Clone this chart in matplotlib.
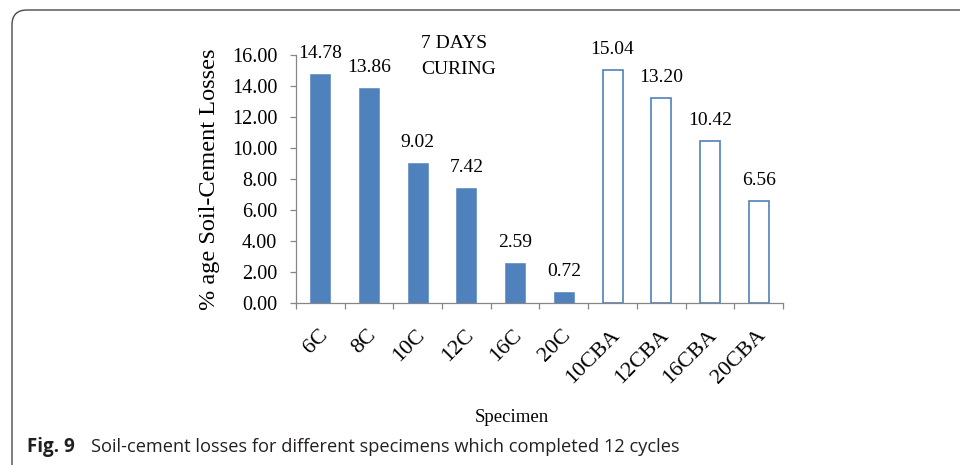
import matplotlib

matplotlib.use("Agg")

import matplotlib.pyplot as plt
import matplotlib.transforms as mtransforms
import numpy as np
from matplotlib.patches import PathPatch
from matplotlib.path import Path

# values
specimens = ["6C", "8C", "10C", "12C", "16C", "20C", "10CBA", "12CBA", "16CBA", "20CBA"]
losses = [14.78, 13.86, 9.02, 7.42, 2.59, 0.72, 15.04, 13.20, 10.42, 6.56]
yticks = [0, 2, 4, 6, 8, 10, 12, 14, 16]

BLUE = "#4F81BD"
AXIS_GREY = "#868686"
SERIF = "Liberation Serif"
SANS = "Open Sans"

fig = plt.figure(figsize=(9.6, 4.65), dpi=100)
ax = fig.add_axes([0.3083, 0.349, 0.5073, 0.5327])

x = np.arange(len(specimens))
for xi, val, name in zip(x, losses, specimens):
    hollow = name.endswith("CBA")
    ax.bar(
        xi, val, width=0.41,
        color="white" if hollow else BLUE,
        edgecolor=BLUE,
        linewidth=1.2 if hollow else 0.4,
    )
    ax.annotate(
        f"{val:.2f}", (xi, val), xytext=(0, 11.5), textcoords="offset points",
        ha="center", va="baseline", fontsize=14, family=SERIF,
        annotation_clip=False,
    )

ax.set_xlim(-0.5, len(specimens) - 0.5)
ax.set_ylim(0, 16)

for side in ("top", "right"):
    ax.spines[side].set_visible(False)
for side in ("left", "bottom"):
    ax.spines[side].set_color(AXIS_GREY)
    ax.spines[side].set_linewidth(0.9)

ax.set_yticks(yticks)
ax.set_yticklabels([f"{v:.2f}" for v in yticks], family=SERIF, fontsize=14.5)
ax.tick_params(axis="y", direction="out", length=4.5, width=0.9,
               color=AXIS_GREY, pad=9)

ax.set_xticks(x)
ax.set_xticklabels(specimens, family=SERIF, fontsize=16, rotation=45,
                   ha="right", va="center", rotation_mode="anchor")
ax.set_xticks(np.arange(-0.5, len(specimens), 1), minor=True)
ax.tick_params(axis="x", which="major", length=0, pad=20)
ax.tick_params(axis="x", which="minor", direction="out", length=4.5,
               width=0.9, color=AXIS_GREY)
# small shift so the rotated labels sit like the original ones
nudge = mtransforms.ScaledTranslation(0.045, -0.02, fig.dpi_scale_trans)
for lbl in ax.get_xticklabels():
    lbl.set_transform(lbl.get_transform() + nudge)

ax.text(-0.1766, 0.5, "% age Soil-Cement Losses", transform=ax.transAxes,
        rotation=90, ha="center", va="center", family=SERIF, fontsize=17.5)
ax.text(0.4425, -0.462, "Specimen", transform=ax.transAxes,
        ha="center", va="center", family=SERIF, fontsize=13.5)
ax.text(0.257, 1.08, "7 DAYS\nCURING", transform=ax.transAxes,
        ha="left", va="top", family=SERIF, fontsize=14, linespacing=1.7)

# open frame with rounded top-left corner (inch coordinates)
frame = Path(
    [(0.12, -0.1), (0.12, 4.40), (0.12, 4.55), (0.27, 4.55), (9.7, 4.55)],
    [Path.MOVETO, Path.LINETO, Path.CURVE3, Path.CURVE3, Path.LINETO],
)
fig.add_artist(PathPatch(frame, fill=False, edgecolor="#4a4a4a", linewidth=1.0,
                         transform=fig.dpi_scale_trans))

cap_y = 1 - 451.7 / 465
fig.text(27 / 960, cap_y, "Fig. 9", family=SANS, weight="bold",
         fontsize=13.5, va="baseline", color="#231f20")
fig.text(90.7 / 960, cap_y,
         "Soil-cement losses for different specimens which completed 12 cycles",
         family=SANS, fontsize=13.15, va="baseline", color="#231f20")

fig.savefig("out.png", dpi=100)
